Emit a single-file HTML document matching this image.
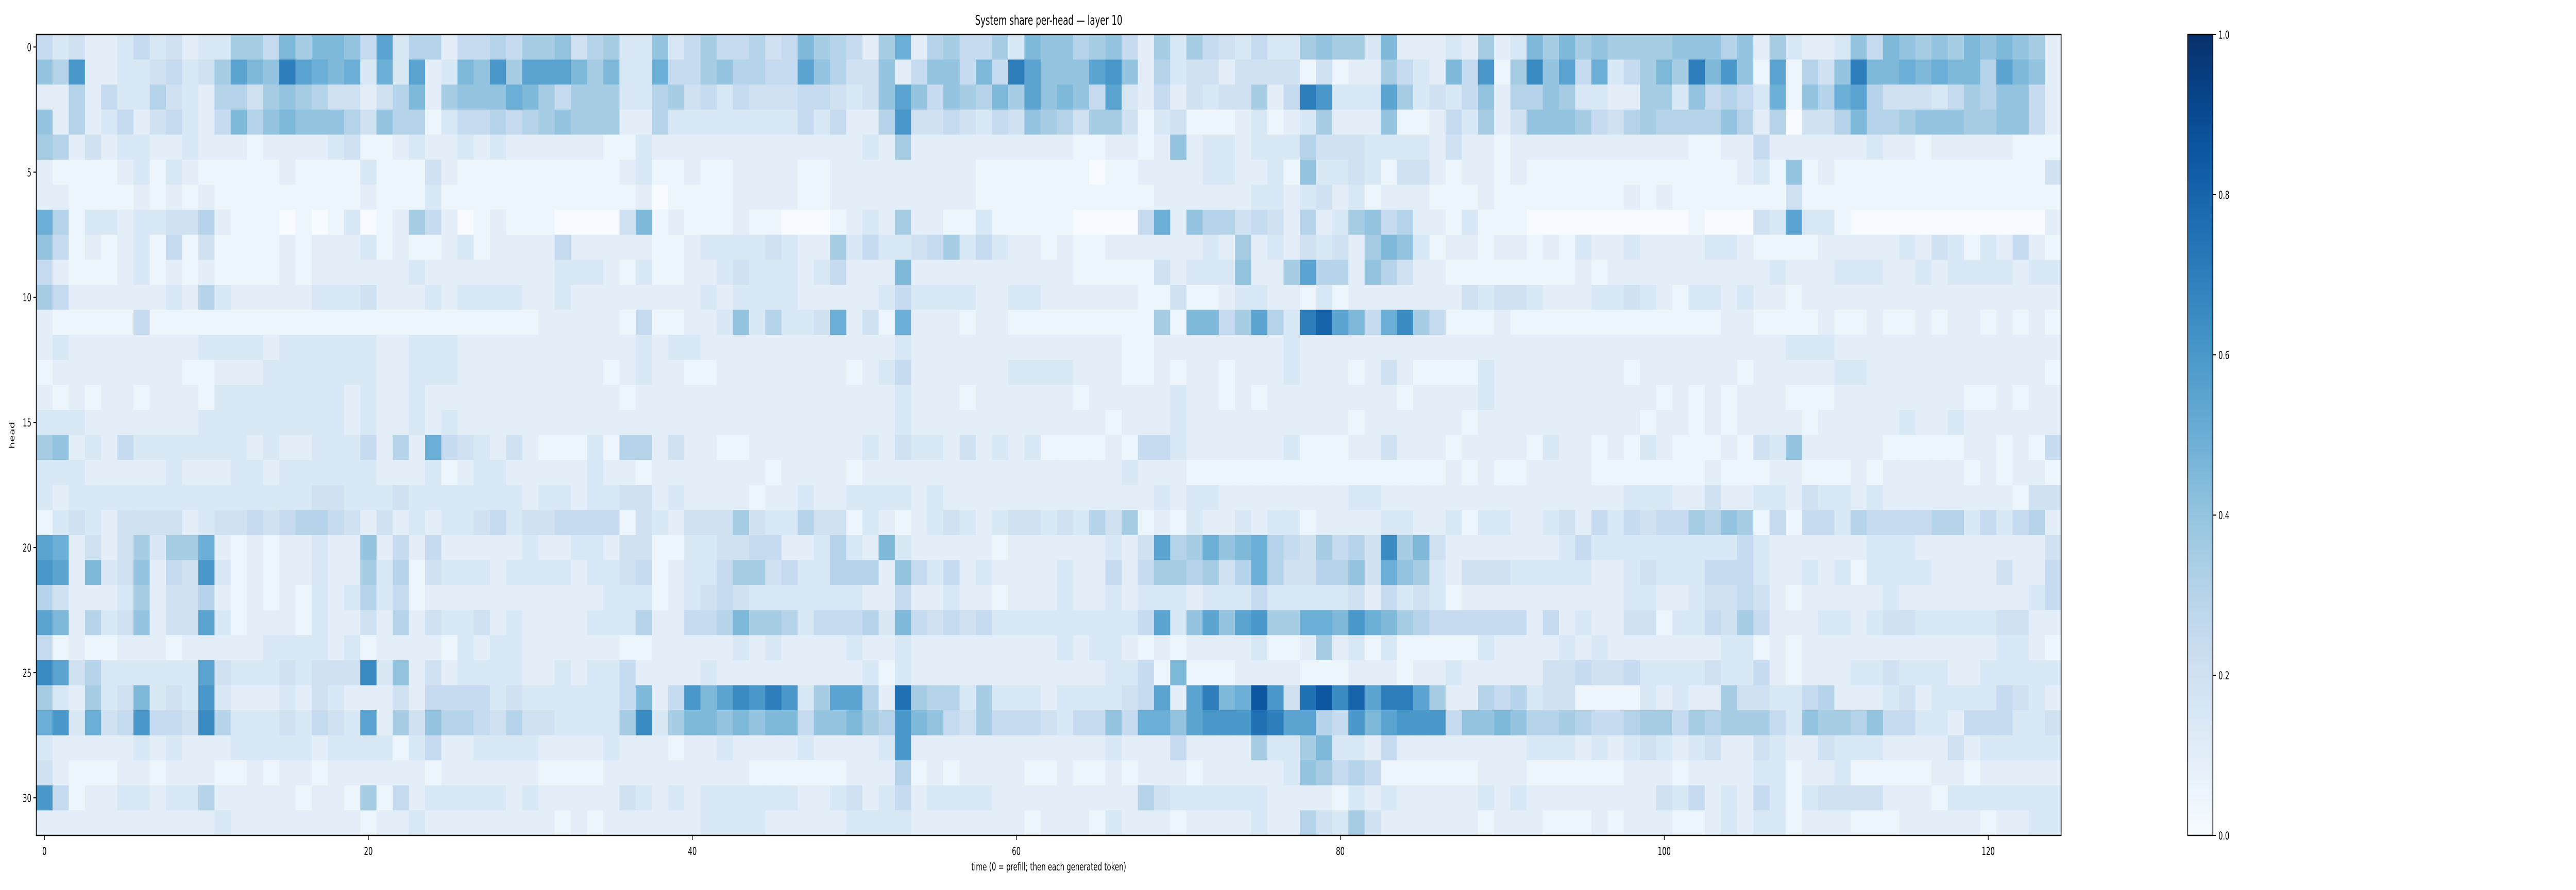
<!DOCTYPE html>
<html><head><meta charset="utf-8"><style>
html,body{margin:0;padding:0;background:#fff;overflow:hidden;width:100%;height:100%;}
svg{display:block;width:100vw;height:100vh;}
text{font-family:"DejaVu Sans","Liberation Sans",sans-serif;fill:#000;}
</style></head><body>
<svg id="chart" viewBox="0 0 7875 1728" preserveAspectRatio="none" xmlns="http://www.w3.org/2000/svg">
<text x="3206" y="48" font-size="26" text-anchor="middle">System share per-head — layer 10</text>
<g id="cells"></g>
<rect x="111" y="67" width="6190" height="1555" fill="none" stroke="#000" stroke-width="2.5"/>
<g id="xticks"></g>
<g id="yticks"></g>
<text x="3206" y="1690" font-size="21" text-anchor="middle">time (0 = prefill; then each generated token)</text>
<text x="0" y="0" font-size="21" text-anchor="middle" transform="translate(44,845) rotate(-90)">head</text>
<defs><linearGradient id="cbg" x1="0" y1="1" x2="0" y2="0"></linearGradient></defs>
<rect x="6688" y="67" width="77" height="1555" fill="url(#cbg)" stroke="#000" stroke-width="2.5"/>
<g id="cbticks"></g>
</svg>
<script>
// Encoded cell values: char c -> parseInt(c,36)*0.05
const headRows = [
"53422353423377597998"+"5b3662556577"+"8467338357556459765 27a2675573988".replace(/ /g,"")+"67852737543533787739222327239797"+"87777888682732238598787989872",
"86c223345347b98eba9a3a3b2398c7bb"+"b97933a55786655b864482588595eb88"+"8bc826344244441412275329 5c17d8b5".replace(/ /g,"")+"a35797e9c81b1648e99a9a996b982",
"22625336432664787644246927888a97"+"57773367453544455434"+"8b8587697b89"+"85b32524344725ec333b734358266873"+"32277385653a186ab644435768852",
"82623524532596898886486613556567"+"87772263333333353522"+"6c4454354876"+"47741341112312372228112537248887"+"54676666862604469667888778852",
"76242332232221222234112322323222"+"22211322222222222223272222222222"+"11221282332333644433332422122222"+"22222211225222222322122222111",
"21111231321111121111311142111111"+"11112311211222211222222222111111"+"10112222332231833431442122121111"+"11111111123181211111111111114",
"22111121212111111111211131111111"+"11111201111222211222222222111111"+"11111222222332342312221112111111"+"11212111111141111111111111111",
"a613323344621110101301275201211"+"1"+"00004912111211000123272211311111"+"00005a286645426237856221311100 00".replace(/ /g,"")+"000000100043b3310000000000002",
"85121231514111121222312112312222"+"52222211233334322735334573532212"+"11222222327232434279831221221213"+"22322223321111222223243132521",
"52111231212111121222222322222222"+"33321311223433323522292222222222"+"11111423338227b662864221111111 12".replace(/ /g,"")+"12222222222322233322323333233",
"75222222326322222333422232333322"+"32222222232333322222353333223322"+"22221141123322131222222243443222"+"33432133232212222222222222222",
"21111151111111111111111111111112"+"2222151122383633 4a241a2221221111".replace(/ /g,"")+"11111719957b63egb95ad75111211111"+"11111111221111211211212212121",
"23222222223333233333322333222222"+"22222323322222222222232222222222"+"22211222222223222222222222222222"+"22222222222233322222222222222",
"12222222211222333333322333222222"+"22212322112222222212352222223333"+"22211212212223222124211113222222"+"22122222212222233222222222221",
"21212212221333333332322322222222"+"22221222222222222222232221222222"+"12222232212122222222122223222222"+"22221212122211122222222112122",
"33322222223333333332322323222222"+"22222222222222222222232222222222"+"22122232222222222122222212222222"+"22212212122221222223223222222",
"78232533333332322333 5262a5432421".replace(/ /g,"")+"11316624221122222223243324232311"+"11215532222223111224222122221322"+"12132111214382222211111221215",
"33322222322233233333322231233222"+"22322122222221222212222222222222"+"22232221111111111111111212112222"+"11111112111221112122222121221",
"32333333333333333443334333333323"+"32334423222212232233332322222222"+"22222323322222222332222222222222"+"22333224223324332322222222144",
"13432444423445456654242323345344"+"55551432444743364413212343234434"+"36471213223233122223322313322342"+"53545576871515536555566353562",
"ba24247377a2121223228252522222 32".replace(/ /g,"")+"23324411334455223632932222212222"+"22324b67a89a6547564d794222222235"+"33333333353222222333222222224",
"cb29348254c312122322736143332333"+"32334512335774533666285352322223"+"22525776746a6446684a873244433333"+"22343335553223231333322224225",
"64222372446212121323635122222222"+"22233312345433333332252232212223"+"22323332333533333425343122222222"+"22332234454212222232222222235",
"b926348244b312221322426243342322"+"22333622556977635556395454533333"+"3333 5b38b8bc77aa9ca976555555 2523".replace(/ /g,"")+"22441335475222332344333334422",
"51211222122222333323122221323322"+"22221122222323222232232222222223"+"23321212222311272313111113222232"+"32222222331212222222222223321",
"db46333333b433343444d38242333322"+"32335222232222222223132222222222"+"22335191112222111222122322222445"+"44533334335212223343332233333",
"7327349343c322232432224255553433"+"33335925c9bdcec37bb62f7663733323"+"33345b2be9ahc4fhdgbeeb7226563441"+"11132322744335622234233335432",
"ac3a45c554d633343543b27486654644"+"33337d37998989958897 6c9854755543".replace(/ /g,"")+"5585aa8bcccfebb65c9bccc588986676"+"55677576777538776855332555334",
"32222232322233333233331352233332"+"22232221223222232222 3c2222222222".replace(/ /g,"")+"22322252222733793325222222223332"+"32343234224322433322224233333",
"42111221222112122122222212222221"+"11122222222211111122261212222112"+"11212221222223875651111112221111"+"11222122223312231111122122222",
"c5122332336222221221715233333232"+"22224323233333322342352333322222"+"22226433333322221323222223232222"+"22224352325313444422213333333",
"22222222222322222222122322222222"+"12122222233332222233332222222122"+"21322212222322643742222221222111"+"21222112323312221112222212233"
];
const headIndex = headRows.map((r,i)=>i);
const timeSteps = Array.from({length:125},(_,i)=>i);
const values = headRows.map(r => r.slice(0,125).split("").map(c => parseInt(c,36)*0.05));
const xTickValues = [0,20,40,60,80,100,120];
const yTickValues = [0,5,10,15,20,25,30];
const cbTickValues = [0.0,0.2,0.4,0.6,0.8,1.0];

const NS="http://www.w3.org/2000/svg";
const L=111,T=67,W=6190,H=1555;
const nC=timeSteps.length,nR=headIndex.length;
const cw=W/nC,ch=H/nR;
const xPos=i=>L+(i+0.5)*cw;
const yPos=j=>T+(j+0.5)*ch;
const stops=[[0,[247,251,255]],[0.125,[222,235,247]],[0.25,[198,219,239]],[0.375,[158,202,225]],[0.5,[107,174,214]],[0.625,[66,146,198]],[0.75,[33,113,181]],[0.875,[8,81,156]],[1,[8,48,107]]];
function cmap(v){v=Math.max(0,Math.min(1,v));for(let k=1;k<stops.length;k++){if(v<=stops[k][0]){const a=stops[k-1],b=stops[k];const t=(v-a[0])/(b[0]-a[0]);const c=a[1].map((x,m)=>Math.round(x+(b[1][m]-x)*t));return `rgb(${c[0]},${c[1]},${c[2]})`;}}return "rgb(8,48,107)";}
const cells=document.getElementById("cells");
values.forEach((row,j)=>{row.forEach((v,i)=>{
  const r=document.createElementNS(NS,"rect");
  r.setAttribute("x",(xPos(i)-cw/2).toFixed(2));
  r.setAttribute("y",(yPos(j)-ch/2).toFixed(2));
  r.setAttribute("width",(cw+0.6).toFixed(2));
  r.setAttribute("height",(ch+0.6).toFixed(2));
  r.setAttribute("fill",cmap(v));
  
  
  cells.appendChild(r);
});});
const xg=document.getElementById("xticks");
xTickValues.forEach(t=>{
  const x=xPos(t);
  const ln=document.createElementNS(NS,"line");
  ln.setAttribute("x1",x);ln.setAttribute("x2",x);ln.setAttribute("y1",T+H);ln.setAttribute("y2",T+H+9);
  ln.setAttribute("stroke","#000");ln.setAttribute("stroke-width","2");
  
  
  xg.appendChild(ln);
  const tx=document.createElementNS(NS,"text");
  tx.setAttribute("x",x);tx.setAttribute("y",T+H+38);tx.setAttribute("font-size","21");tx.setAttribute("text-anchor","middle");
  tx.textContent=t;
  
  
  xg.appendChild(tx);
});
const yg=document.getElementById("yticks");
yTickValues.forEach(t=>{
  const y=yPos(t);
  const ln=document.createElementNS(NS,"line");
  ln.setAttribute("x1",L-9);ln.setAttribute("x2",L);ln.setAttribute("y1",y);ln.setAttribute("y2",y);
  ln.setAttribute("stroke","#000");ln.setAttribute("stroke-width","2");
  
  
  yg.appendChild(ln);
  const tx=document.createElementNS(NS,"text");
  tx.setAttribute("x",L-15);tx.setAttribute("y",y+8);tx.setAttribute("font-size","21");tx.setAttribute("text-anchor","end");
  tx.textContent=t;
  
  
  yg.appendChild(tx);
});
const grad=document.getElementById("cbg");
for(let k=0;k<=20;k++){const s=document.createElementNS(NS,"stop");s.setAttribute("offset",k/20);s.setAttribute("stop-color",cmap(k/20));grad.appendChild(s);}
const cg=document.getElementById("cbticks");
cbTickValues.forEach(t=>{
  const y=T+H-t*H;
  const ln=document.createElementNS(NS,"line");
  ln.setAttribute("x1",6765);ln.setAttribute("x2",6774);ln.setAttribute("y1",y);ln.setAttribute("y2",y);
  ln.setAttribute("stroke","#000");ln.setAttribute("stroke-width","2");
  
  
  cg.appendChild(ln);
  const tx=document.createElementNS(NS,"text");
  tx.setAttribute("x",6782);tx.setAttribute("y",y+8);tx.setAttribute("font-size","21");
  tx.textContent=t.toFixed(1);
  
  
  cg.appendChild(tx);
});
</script>
</body></html>
